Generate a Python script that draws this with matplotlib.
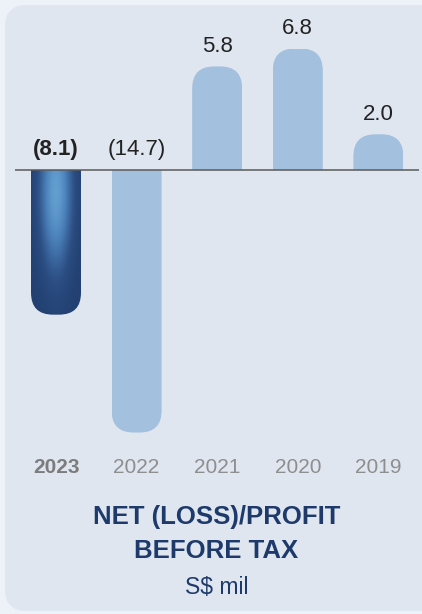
import numpy as np
import matplotlib.pyplot as plt
import matplotlib.transforms as mtransforms
from matplotlib.patches import FancyBboxPatch
from matplotlib.colors import LinearSegmentedColormap

plt.rcParams['font.family'] = ['Liberation Sans', 'DejaVu Sans']

# data
years = ['2023', '2022', '2021', '2020', '2019']
values = [-8.1, -14.7, 5.8, 6.8, 2.0]
value_labels = ['(8.1)', '(14.7)', '5.8', '6.8', '2.0']
title = 'NET (LOSS)/PROFIT\nBEFORE TAX'
unit = 'S$ mil'

W, H = 422, 614
fig = plt.figure(figsize=(W / 100, H / 100), dpi=100)
fig.patch.set_facecolor('#edf1f8')
ax = fig.add_axes([0, 0, 1, 1])
ax.set_axis_off()

# pixel layout: first bar centre at x=56, 80.6 px between bars,
# zero line at y=170, 17.86 px per S$ mil
px_cat = 80.6
px_unit = 17.86
x0_px, zero_px = 56, 170
ax.set_xlim(-x0_px / px_cat, (W - x0_px) / px_cat)
ax.set_ylim(-(H - zero_px) / px_unit, zero_px / px_unit)

# pixel transform (origin top left) for the panel and texts
pix = mtransforms.Affine2D().scale(1 / W, -1 / H).translate(0, 1) + fig.transFigure

panel = FancyBboxPatch((5, 5), 440, 606, boxstyle='round,pad=0,rounding_size=22',
                       transform=pix, facecolor='#dfe6f0', edgecolor='none', zorder=0)
ax.add_patch(panel)

# bars
x = np.arange(len(years))
bw = 50 / px_cat
bars = ax.bar(x, values, width=bw, color='none', edgecolor='none', zorder=2)

r_pix = 22
rx = r_pix / px_cat
ry = r_pix / px_unit
aspect = px_cat / px_unit

grad_cmap = LinearSegmentedColormap.from_list('g', ['#1c3765', '#2b4d82', '#4a7fb8', '#6aa8d8'])

for i, (bar, v) in enumerate(zip(bars, values)):
    bx = bar.get_x()
    if v >= 0:
        y0, h = -ry, v + ry
    else:
        y0, h = v, -v + ry
    rp = FancyBboxPatch((bx, y0), bw, h,
                        boxstyle='round,pad=0,rounding_size=%f' % rx,
                        mutation_aspect=aspect, zorder=2,
                        facecolor='#a3c0de' if i > 0 else 'none', edgecolor='none')
    ax.add_patch(rp)
    rp.set_clip_path(bar)
    if i == 0:
        # radial-ish gradient for the current year
        nx, ny = 60, 200
        u = np.linspace(-1, 1, nx)
        yy = np.linspace(0, v, ny)
        U, Y = np.meshgrid(u, yy)
        dy = (Y + 1.2) / 4.5
        f = np.exp(-(U ** 2) / 0.45 - dy ** 2)
        f = 0.12 + 0.8 * f
        ax.imshow(f, cmap=grad_cmap, vmin=0, vmax=1, aspect='auto',
                  extent=[bx, bx + bw, v, 0], origin='upper', zorder=2,
                  interpolation='bilinear', clip_path=rp)

# zero line
ax.plot([-(x0_px - 15) / px_cat, (419 - x0_px) / px_cat], [0, 0],
        color='#5a5a5a', lw=1.1, zorder=3, solid_capstyle='butt')

# value labels
for i, (v, lab) in enumerate(zip(values, value_labels)):
    ytop = max(v, 0)
    ax.annotate(lab, (x[i], ytop), xytext=(0, 7), textcoords='offset points',
                ha='center', va='bottom', fontsize=16, color='#222222',
                fontweight='bold' if i == 0 else 'normal', zorder=4)

# year labels
for i, yr in enumerate(years):
    ax.text(x[i], -(468 - zero_px) / px_unit, yr, ha='center', va='center',
            fontsize=15, color='#7c7c7c' if i == 0 else '#8e8e8e',
            fontweight='bold' if i == 0 else 'normal')

ax.text(216.5, 534, title, transform=pix, ha='center', va='center',
        fontsize=18.5, fontweight='bold', color='#1e3a6b', linespacing=1.5)
ax.text(216.5, 587, unit, transform=pix, ha='center', va='center',
        fontsize=16.5, color='#1e3a6b')

fig.savefig('out.png', dpi=100, facecolor=fig.get_facecolor())
